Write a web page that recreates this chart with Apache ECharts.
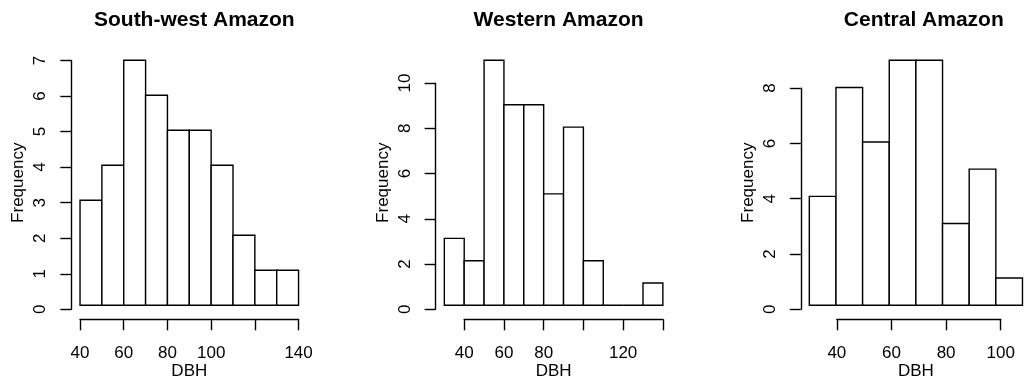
<!DOCTYPE html>
<html>
<head>
<meta charset="utf-8">
<title>DBH histograms</title>
<script src="https://cdn.jsdelivr.net/npm/echarts@6/dist/echarts.min.js"></script>
<style>
  html, body { margin: 0; padding: 0; background: #fff; }
  #chart { width: 1031px; height: 385px; }
</style>
</head>
<body>
<div id="chart"></div>
<script>
// Bin edges and frequencies for each region
const swBins = [40, 50, 60, 70, 80, 90, 100, 110, 120, 130, 140];
const swCounts = [3, 4, 7, 6, 5, 5, 4, 2, 1, 1];
const swXTicks = [40, 60, 80, 100, 120, 140];
const swXLabels = [40, 60, 80, 100, 140];
const swYTicks = [0, 1, 2, 3, 4, 5, 6, 7];

const wBins = [30, 40, 50, 60, 70, 80, 90, 100, 110, 120, 130, 140];
const wCounts = [3, 2, 11, 9, 9, 5, 8, 2, 0, 0, 1];
const wXTicks = [40, 60, 80, 100, 120, 140];
const wXLabels = [40, 60, 80, 120];
const wYTicks = [0, 2, 4, 6, 8, 10];

const cBins = [30, 40, 50, 60, 70, 80, 90, 100, 110];
const cCounts = [4, 8, 6, 9, 9, 3, 5, 1];
const cXTicks = [40, 60, 80, 100];
const cXLabels = [40, 60, 80, 100];
const cYTicks = [0, 2, 4, 6, 8];

const titles = ['South-west Amazon', 'Western Amazon', 'Central Amazon'];
const xName = 'DBH';
const yName = 'Frequency';

const panels = [
  { title: titles[0], bins: swBins, counts: swCounts, xTicks: swXTicks, xLabels: swXLabels, yTicks: swYTicks, left: 71.3 },
  { title: titles[1], bins: wBins, counts: wCounts, xTicks: wXTicks, xLabels: wXLabels, yTicks: wYTicks, left: 435.6 },
  { title: titles[2], bins: cBins, counts: cCounts, xTicks: cXTicks, xLabels: cXLabels, yTicks: cYTicks, left: 800.8 }
];

const FONT = '"Liberation Sans", Arial, Helvetica, sans-serif';
const INK = '#000';
const LW = 1.4;
const PLOT_W = 236;
const PLOT_TOP = 50.5;
const PLOT_BOTTOM = 319.3;
const PLOT_H = PLOT_BOTTOM - PLOT_TOP;

const option = {
  animation: false,
  backgroundColor: '#fff',
  title: [],
  grid: [],
  xAxis: [],
  yAxis: [],
  series: []
};

panels.forEach((p, i) => {
  // Plot region padded by 4% on each side, like base R graphics
  const b0 = p.bins[0], b1 = p.bins[p.bins.length - 1];
  const xPad = 0.04 * (b1 - b0);
  const xmin = b0 - xPad, xmax = b1 + xPad;
  const cmax = Math.max(...p.counts);
  const ymin = -0.04 * cmax, ymax = cmax * 1.04;

  const yt0 = p.yTicks[0], yt1 = p.yTicks[p.yTicks.length - 1];
  const xt0 = p.xTicks[0], xt1 = p.xTicks[p.xTicks.length - 1];

  const g = i * 3;
  // main plotting grid
  option.grid.push({ left: p.left, top: PLOT_TOP, width: PLOT_W, height: PLOT_H });
  // grid carrying the y axis, spanning only the tick range
  option.grid.push({
    left: p.left,
    width: PLOT_W,
    top: PLOT_BOTTOM - (yt1 - ymin) / (ymax - ymin) * PLOT_H,
    height: (yt1 - yt0) / (ymax - ymin) * PLOT_H
  });
  // grid carrying the x axis, spanning only the tick range
  option.grid.push({
    left: p.left + (xt0 - xmin) / (xmax - xmin) * PLOT_W,
    width: (xt1 - xt0) / (xmax - xmin) * PLOT_W,
    top: PLOT_TOP,
    height: PLOT_H
  });

  const hidden = {
    axisLine: { show: false }, axisTick: { show: false },
    axisLabel: { show: false }, splitLine: { show: false }
  };
  const nameStyle = { fontFamily: FONT, fontSize: 17, color: INK };

  // main axes: only carry the axis titles
  option.xAxis.push(Object.assign({
    type: 'value', gridIndex: g, min: xmin, max: xmax,
    name: xName, nameLocation: 'middle', nameGap: 48, nameTextStyle: nameStyle
  }, hidden));
  option.yAxis.push(Object.assign({
    type: 'value', gridIndex: g, min: ymin, max: ymax,
    name: yName, nameLocation: 'middle', nameGap: 44, nameTextStyle: nameStyle
  }, hidden));

  // y axis grid
  option.xAxis.push({ type: 'value', gridIndex: g + 1, min: xmin, max: xmax, show: false });
  option.yAxis.push({
    type: 'value', gridIndex: g + 1, min: yt0, max: yt1, interval: p.yTicks[1] - p.yTicks[0],
    axisLine: { show: true, lineStyle: { color: INK, width: LW } },
    axisTick: { show: true, length: 11, lineStyle: { color: INK, width: LW } },
    axisLabel: { show: true, rotate: 90, margin: 22, fontFamily: FONT, fontSize: 17, color: INK },
    splitLine: { show: false }
  });

  // x axis grid
  const shown = p.xLabels;
  option.xAxis.push({
    type: 'value', gridIndex: g + 2, min: xt0, max: xt1, interval: p.xTicks[1] - p.xTicks[0],
    position: 'bottom',
    axisLine: { show: true, onZero: false, lineStyle: { color: INK, width: LW } },
    axisTick: { show: true, length: 11, lineStyle: { color: INK, width: LW } },
    axisLabel: {
      show: true, margin: 26, fontFamily: FONT, fontSize: 17, color: INK,
      showMinLabel: true, showMaxLabel: true,
      formatter: v => (shown.indexOf(v) >= 0 ? String(v) : '')
    },
    splitLine: { show: false }
  });
  option.yAxis.push({ type: 'value', gridIndex: g + 2, min: ymin, max: ymax, show: false });

  option.title.push({
    text: p.title,
    left: p.left + PLOT_W / 2,
    top: 5,
    textAlign: 'center',
    textStyle: { fontFamily: FONT, fontSize: 21, fontWeight: 'bold', color: INK }
  });

  // histogram bars: [lower edge, upper edge, count]
  const data = p.counts.map((c, k) => [p.bins[k], p.bins[k + 1], c]);
  option.series.push({
    type: 'custom',
    xAxisIndex: g,
    yAxisIndex: g,
    clip: false,
    data: data,
    encode: { x: [0, 1], y: 2 },
    renderItem: (params, api) => {
      const lo = api.value(0), hi = api.value(1), n = api.value(2);
      const tl = api.coord([lo, n]);
      const br = api.coord([hi, 0]);
      return {
        type: 'rect',
        shape: { x: tl[0], y: tl[1], width: br[0] - tl[0], height: br[1] - tl[1] },
        style: { fill: '#fff', stroke: INK, lineWidth: LW }
      };
    }
  });
});

const chart = echarts.init(document.getElementById('chart'), null, { renderer: 'canvas' });
chart.setOption(option);
</script>
</body>
</html>
